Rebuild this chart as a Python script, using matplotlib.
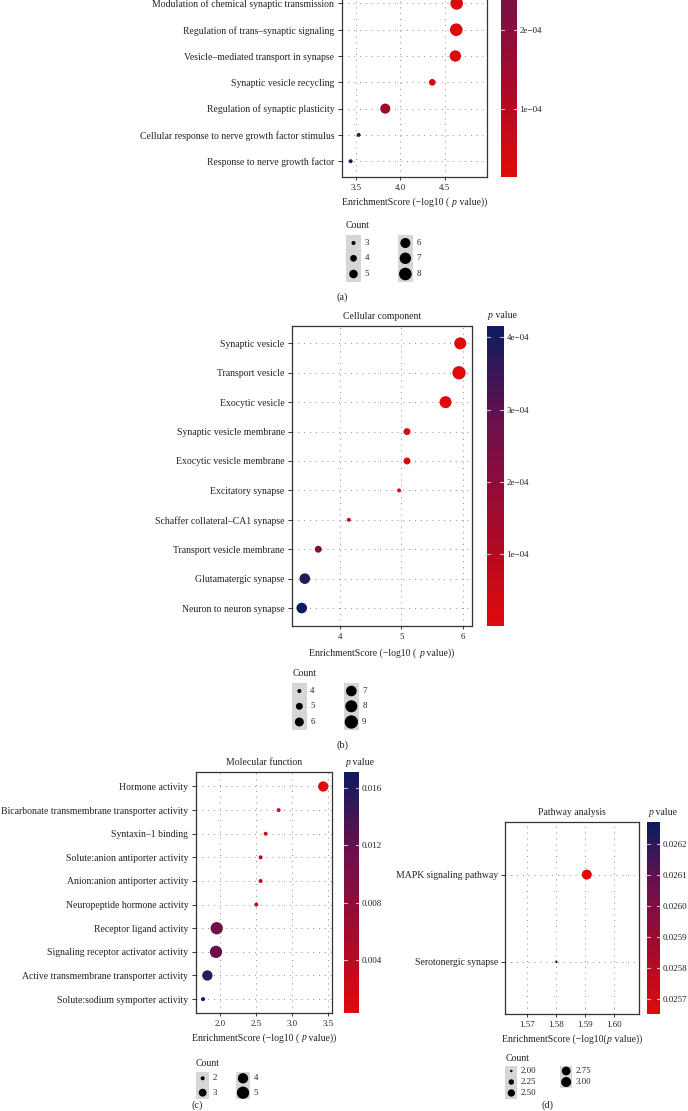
import numpy as np
import matplotlib
matplotlib.use('Agg')
import matplotlib.pyplot as plt
from matplotlib.colors import LinearSegmentedColormap, Normalize
from matplotlib.cm import ScalarMappable
from matplotlib.patches import Rectangle
from matplotlib.offsetbox import TextArea, HPacker, AnnotationBbox

plt.rcParams['font.family'] = ['Liberation Serif', 'DejaVu Serif']

# (a) Biological process - only the lower 7 rows are inside the picture
bp_terms = ['Modulation of chemical synaptic transmission', 'Regulation of trans\u2013synaptic signaling',
            'Vesicle\u2013mediated transport in synapse', 'Synaptic vesicle recycling',
            'Regulation of synaptic plasticity', 'Cellular response to nerve growth factor stimulus',
            'Response to nerve growth factor']
bp_score = [4.635, 4.63, 4.62, 4.36, 3.83, 3.53, 3.44]
bp_count = [8, 8, 7, 4, 6, 3, 3]
bp_p = [2.3e-05, 2.3e-05, 2.4e-05, 4.4e-05, 1.5e-04, 3.3e-04, 3.6e-04]

# (b) Cellular component
cc_terms = ['Synaptic vesicle', 'Transport vesicle', 'Exocytic vesicle', 'Synaptic vesicle membrane',
            'Exocytic vesicle membrane', 'Excitatory synapse', 'Schaffer collateral\u2013CA1 synapse',
            'Transport vesicle membrane', 'Glutamatergic synapse', 'Neuron to neuron synapse']
cc_score = [5.96, 5.94, 5.72, 5.09, 5.09, 4.96, 4.14, 3.64, 3.42, 3.37]
cc_count = [8, 9, 8, 5, 5, 4, 4, 5, 7, 7]
cc_p = [1.1e-06, 1.15e-06, 1.9e-06, 8.1e-06, 8.1e-06, 1.1e-05, 7.2e-05, 2.3e-04, 3.8e-04, 4.16e-04]

# (c) Molecular function
mf_terms = ['Hormone activity', 'Bicarbonate transmembrane transporter activity', 'Syntaxin\u20131 binding',
            'Solute:anion antiporter activity', 'Anion:anion antiporter activity',
            'Neuropeptide hormone activity', 'Receptor ligand activity',
            'Signaling receptor activator activity', 'Active transmembrane transporter activity',
            'Solute:sodium symporter activity']
mf_score = [3.43, 2.81, 2.63, 2.56, 2.56, 2.50, 1.95, 1.94, 1.82, 1.76]
mf_count = [4, 2, 2, 2, 2, 2, 5, 5, 4, 2]
mf_p = [0.00037, 0.00155, 0.00234, 0.00275, 0.00275, 0.00316, 0.0112, 0.0115, 0.0151, 0.0171]

# (d) Pathway analysis
kegg_terms = ['MAPK signaling pathway', 'Serotonergic synapse']
kegg_score = [1.5907, 1.5802]
kegg_count = [3, 2]
kegg_p = [0.025653, 0.026271]

W, H = 688, 1111
fig = plt.figure(figsize=(W / 100, H / 100), dpi=100)
txt = '#222222'
cmap = LinearSegmentedColormap.from_list('pv', ['#e00a0a', '#a50a2c', '#6e0f4c', '#0c1c5e'])


def box(l, t, r, b):
    return [l / W, 1 - b / H, (r - l) / W, (b - t) / H]


def dot(c, rng):
    cmin, cmax, dmin, dmax = rng
    d = np.sqrt(dmin ** 2 + (dmax ** 2 - dmin ** 2) * (np.asarray(c, float) - cmin) / (cmax - cmin))
    return (d * 0.72) ** 2


ov = fig.add_axes([0, 0, 1, 1], zorder=5)
ov.set_xlim(0, W)
ov.set_ylim(H, 0)
ov.axis('off')


def rich(x, y, parts, hfrac, size=7):
    # text with an italic "p" in it, packed on a common baseline
    kids = [TextArea(s, textprops=dict(fontsize=size, color=txt, fontstyle=st)) for s, st in parts]
    pack = HPacker(children=kids, align='baseline', pad=0, sep=0)
    ov.add_artist(AnnotationBbox(pack, (x, y), xycoords='data', frameon=False,
                                 box_alignment=(hfrac, 0.5), pad=0))


def panel(p):
    ax = fig.add_axes(box(*p['box']))
    n = len(p['terms'])
    ypos = np.arange(n)[::-1]
    norm = Normalize(*p['vlim'])
    ax.scatter(p['score'], ypos, s=dot(p['count'], p['rng']), c=p['pval'], cmap=cmap, norm=norm,
               edgecolors='none', zorder=3)
    ax.set_xlim(*p['xlim'])
    ax.set_ylim(-0.6, p['nrows'] - 0.4)
    ax.set_yticks(ypos)
    ax.set_yticklabels(p['terms'], fontsize=7, color=txt)
    ax.set_xticks(p['xticks'])
    ax.set_xticklabels(p['xlabels'], fontsize=6.4, color=txt)
    ax.tick_params(axis='y', length=3, width=0.7, pad=2.3, color='#333333')
    ax.tick_params(axis='x', length=2.5, width=0.7, pad=2.5, color='#333333')
    ax.set_axisbelow(True)
    ax.grid(True, color='#8c8c8c', lw=0.7, linestyle=(0, (1, 5)))
    for sp in ax.spines.values():
        sp.set_color('#333333')
        sp.set_linewidth(0.9)
    l, t, r, b = p['box']
    rich((l + r) / 2, p['xl_y'], p['xlabel'], 0.5)
    if p['title']:
        ov.text((l + r) / 2, t - 9.5, p['title'], ha='center', va='center', fontsize=7, color=txt)

    # colorbar
    cax = fig.add_axes(box(*p['cbox']))
    cb = fig.colorbar(ScalarMappable(norm=norm, cmap=cmap), cax=cax)
    cb.outline.set_visible(False)
    cb.set_ticks(p['cticks'])
    cb.set_ticklabels(p['clabels'])
    cax.tick_params(length=0, labelsize=6.5, pad=2, labelcolor=txt)
    tr = cax.get_yaxis_transform()
    for v in p['cticks']:
        cax.plot([0, 0.2], [v, v], color='white', lw=0.8, alpha=0.7, transform=tr)
        cax.plot([0.8, 1], [v, v], color='white', lw=0.8, alpha=0.7, transform=tr)
    if p['title']:
        rich(p['cbox'][0] + 1, t - 10, [('p', 'italic'), (' value', 'normal')], 0.0)

    # size legend
    lx, ly = p['leg_xy']
    ov.text(lx, ly, 'Count', ha='left', va='center', fontsize=7, color=txt)
    for bx0, bx1, by0, by1, ys, levels in p['leg_cols']:
        ov.add_patch(Rectangle((bx0, by0), bx1 - bx0, by1 - by0, facecolor='#d6d6d6', edgecolor='none'))
        cx = (bx0 + bx1) / 2
        ov.scatter([cx] * len(levels), ys, s=dot(levels, p['rng']), color='black', edgecolors='none')
        for yy, lv in zip(ys, levels):
            ov.text(bx1 + 3.5, yy, p['lfmt'].format(lv), ha='left', va='center', fontsize=6.4, color=txt)
    ov.text(p['tag'][0], p['tag'][1], p['tag'][2], ha='center', va='center', fontsize=7.5, color=txt)


xl = [('EnrichmentScore (\u2212log10 ( ', 'normal'), ('p', 'italic'), (' value))', 'normal')]
xl_d = [('EnrichmentScore (\u2212log10(', 'normal'), ('p', 'italic'), (' value))', 'normal')]

panel(dict(terms=bp_terms, score=bp_score, count=bp_count, pval=bp_p, nrows=11,
           box=(341.7, -117.6, 487.3, 177), xlim=(3.339, 4.98), xticks=[3.5, 4.0, 4.5],
           xlabels=['3.5', '4.0', '4.5'], xlabel=xl, xl_y=202.3, title=None,
           cbox=(501, -117.6, 516.7, 177), vlim=(1.4e-05, 3.87e-04), cticks=[1e-04, 2e-04],
           clabels=['1e\u221204', '2e\u221204'], rng=(3, 8, 4, 12.6),
           leg_xy=(346, 226), lfmt='{:d}',
           leg_cols=[(346, 361, 235, 282, [243, 258.3, 274], [3, 4, 5]),
                     (398, 412.7, 235, 282, [243, 258.3, 274], [6, 7, 8])],
           tag=(341.7, 296.7, '(a)')))

panel(dict(terms=cc_terms, score=cc_score, count=cc_count, pval=cc_p, nrows=10,
           box=(292, 325.7, 471.7, 625.7), xlim=(3.211, 6.147), xticks=[4, 5, 6],
           xlabels=['4', '5', '6'], xlabel=xl, xl_y=653.3, title='Cellular component',
           cbox=(486.7, 325.7, 503.7, 625.7), vlim=(1.1e-06, 4.16e-04),
           cticks=[1e-04, 2e-04, 3e-04, 4e-04],
           clabels=['1e\u221204', '2e\u221204', '3e\u221204', '4e\u221204'], rng=(4, 9, 4, 13.3),
           leg_xy=(292.7, 674), lfmt='{:d}',
           leg_cols=[(292, 306.7, 683.3, 730, [691, 706.3, 722], [4, 5, 6]),
                     (344, 358.7, 683.3, 730, [691, 706.3, 722], [7, 8, 9])],
           tag=(342.3, 745, '(b)')))

panel(dict(terms=mf_terms, score=mf_score, count=mf_count, pval=mf_p, nrows=10,
           box=(195.7, 772.3, 332.3, 1013.3), xlim=(1.658, 3.556), xticks=[2.0, 2.5, 3.0, 3.5],
           xlabels=['2.0', '2.5', '3.0', '3.5'], xlabel=xl, xl_y=1037.7, title='Molecular function',
           cbox=(344.3, 772.3, 359, 1013.3), vlim=(0.00031, 0.01707),
           cticks=[0.004, 0.008, 0.012, 0.016],
           clabels=['0.004', '0.008', '0.012', '0.016'], rng=(2, 5, 4, 12.3),
           leg_xy=(196, 1063), lfmt='{:d}',
           leg_cols=[(196, 209.3, 1071.5, 1099.3, [1078.3, 1092.7], [2, 3]),
                     (236, 250, 1071.5, 1099.3, [1078.3, 1092.7], [4, 5])],
           tag=(197, 1105.5, '(c)')))

panel(dict(terms=kegg_terms, score=kegg_score, count=kegg_count, pval=kegg_p, nrows=2,
           box=(505.3, 822.3, 639.3, 1014), xlim=(1.5626, 1.6088), xticks=[1.57, 1.58, 1.59, 1.60],
           xlabels=['1.57', '1.58', '1.59', '1.60'], xlabel=xl_d,
           xl_y=1039.3, title='Pathway analysis',
           cbox=(647.3, 822.3, 660, 1014), vlim=(0.025653, 0.026271),
           cticks=[0.0257, 0.0258, 0.0259, 0.0260, 0.0261, 0.0262],
           clabels=['0.0257', '0.0258', '0.0259', '0.0260', '0.0261', '0.0262'], rng=(2, 3, 2.5, 10),
           leg_xy=(505.3, 1058.3), lfmt='{:.2f}',
           leg_cols=[(505.3, 517.3, 1065.5, 1099.3, [1071, 1082, 1093], [2.00, 2.25, 2.50]),
                     (560, 572.3, 1065.5, 1088.3, [1071, 1082], [2.75, 3.00])],
           tag=(548, 1105.5, '(d)')))

fig.savefig('out.png', dpi=100)
